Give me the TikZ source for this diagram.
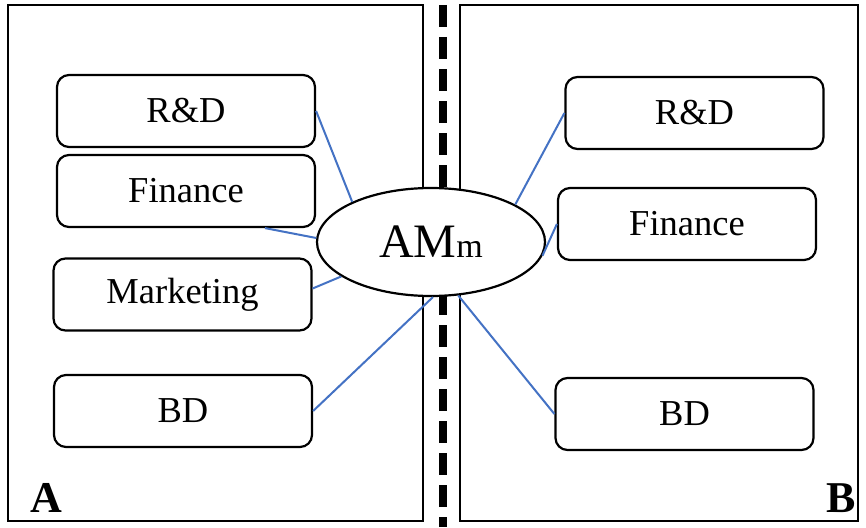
\documentclass[tikz,border=0pt]{standalone}
\usepackage{fontspec}
\setmainfont{Liberation Serif}
\usetikzlibrary{shapes.geometric}
\begin{document}
\begin{tikzpicture}[x=1pt,y=-1pt,
  frame/.style={draw=black,line width=2.2pt},
  dept/.style={draw=black,line width=2.2pt,rounded corners=12pt,fill=white,
    minimum width=258pt,minimum height=72pt,inner sep=0pt,font=\fontsize{36.5}{40}\selectfont},
  link/.style={draw={rgb,255:red,68;green,114;blue,196},line width=2pt},
  tag/.style={font=\fontsize{44}{48}\selectfont\bfseries,inner sep=0pt,anchor=base}]
\useasboundingbox (0,0) rectangle (866,527);
\fill[white] (0,0) rectangle (866,527);
\draw[frame] (8,5) rectangle (423,521);
\draw[frame] (460,5) rectangle (858,521);
\draw[line width=8pt,dash pattern=on 22pt off 10pt] (443,5) -- (443,527);
\node[dept] (rdL) at (186,111) {R\&D};
\node[dept] (finL) at (186,191) {Finance};
\node[dept] (marL) at (182.5,294.5) {Marketing};
\node[dept] (bdL) at (183,411) {BD};
\node[dept] (rdR) at (694.5,113) {R\&D};
\node[dept] (finR) at (687,224) {Finance};
\node[dept] (bdR) at (684.5,414) {BD};
\node[ellipse,draw=black,line width=2.2pt,fill=white,minimum width=228pt,minimum height=108pt,inner sep=0pt] (am) at (431,242)
  {\fontsize{48}{52}\selectfont AM\fontsize{34}{40}\selectfont m};
\draw[link] (rdL.east) -- (am.153.7);
\draw[link] ([xshift=79pt]finL.south) -- (am.178);
\draw[link] ([yshift=6pt]marL.east) -- (am.201.5);
\draw[link] (bdL.east) -- (am.272);
\draw[link] (rdR.west) -- (am.24.9);
\draw[link] (finR.west) -- (am.353.5);
\draw[link] (bdR.west) -- (am.297.4);
\node[tag] (labA) at (46,512) {A};
\node[tag] (labB) at (841,512) {B};
\end{tikzpicture}
\end{document}
